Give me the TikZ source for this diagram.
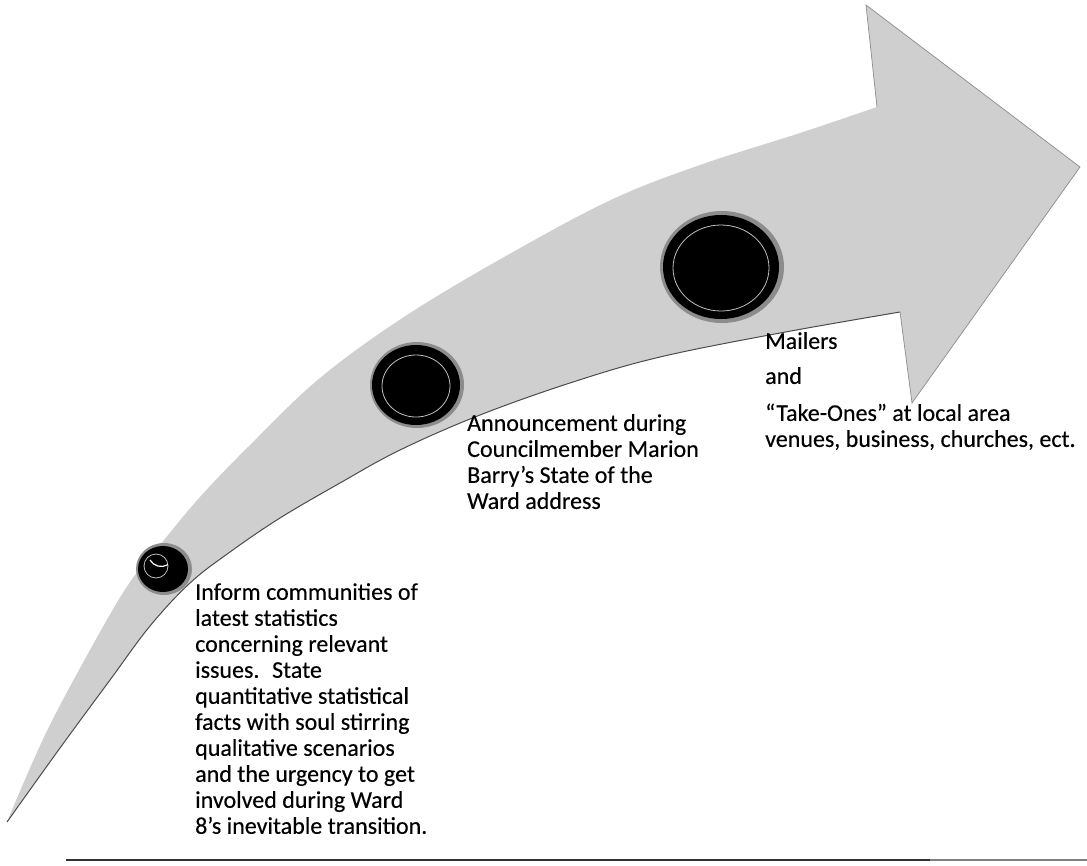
\documentclass[tikz,border=0pt]{standalone}
\usepackage{fontspec}
\setmainfont{Carlito}[FakeBold=0.3]
\begin{document}
\begin{tikzpicture}[x=1pt,y=-1pt,
  band/.style={fill=black!19},
  lowedge/.style={draw=black!70,line width=1pt},
  headedge/.style={draw=black!45,line width=0.7pt},
  txt/.style={anchor=north west,inner sep=0pt,align=left,font=\fontsize{24}{26}\selectfont},
  disc/.style={fill=black},
  halo/.style={fill=black!45},
  ring/.style={draw=white!75!black,line width=0.8pt}
]
\useasboundingbox (0,0) rectangle (1087,865);
% arrow
\fill[band] plot[smooth,tension=0.6] coordinates {(7,822) (45,735) (90,650) (128,585) (160,545) (200,497) (250,445) (320,378) (407,315) (513,252) (613,199) (700,165) (800,133) (877,107)}
  -- (866,5) -- (1080,167) -- (912,403) -- (900,312)
  -- plot[smooth,tension=0.6] coordinates {(900,312) (780,333) (660,357) (573,382) (480,415) (400,450) (340,483) (280,518) (230,552) (190,583) (150,626) (110,680) (60,748) (7,822)} -- cycle;
\draw[lowedge] plot[smooth,tension=0.6] coordinates {(900,312) (780,333) (660,357) (573,382) (480,415) (400,450) (340,483) (280,518) (230,552) (190,583) (150,626) (110,680) (60,748) (7,822)};
\draw[headedge] (877,107) -- (866,5) -- (1080,167) -- (912,403) -- (900,312);
% circles
\fill[halo] (164,569) ellipse [x radius=28,y radius=26];
\fill[disc] (163,569) ellipse [x radius=25,y radius=23];
\draw[ring] (156,566) circle (12);
\draw[white,line width=1.2pt] (150,560) arc[start angle=150,end angle=60,radius=13];
\fill[halo] (417,385) ellipse [x radius=47,y radius=43];
\fill[disc] (416,385) ellipse [x radius=44,y radius=40];
\draw[ring] (416,386) ellipse [x radius=34,y radius=31];
\fill[halo] (722,267) ellipse [x radius=62,y radius=56];
\fill[disc] (721,267) ellipse [x radius=58,y radius=52];
\draw[ring] (721,268) ellipse [x radius=48,y radius=43];
% texts
\node[txt] (t1) at (195,583) {Inform communities of\\latest statistics\\concerning relevant\\issues.~ State\\quantitative statistical\\facts with soul stirring\\qualitative scenarios\\and the urgency to get\\involved during Ward\\8’s inevitable transition.};
\node[txt] (t2) at (467,414) {Announcement during\\Councilmember Marion\\Barry’s State of the\\Ward address};
\node[txt] (t3) at (765,332) {Mailers\\[9pt]and\\[11pt]“Take-Ones” at local area\\venues, business, churches, ect.};
% rule
\coordinate (r1) at (66,860);
\coordinate (r2) at (930,860);
\coordinate (r3) at (1087,860);
\draw[black!80,line width=2pt] (r1) -- (r2);
\draw[black!50,line width=2pt] (r2) -- (r3);
\end{tikzpicture}
\end{document}
